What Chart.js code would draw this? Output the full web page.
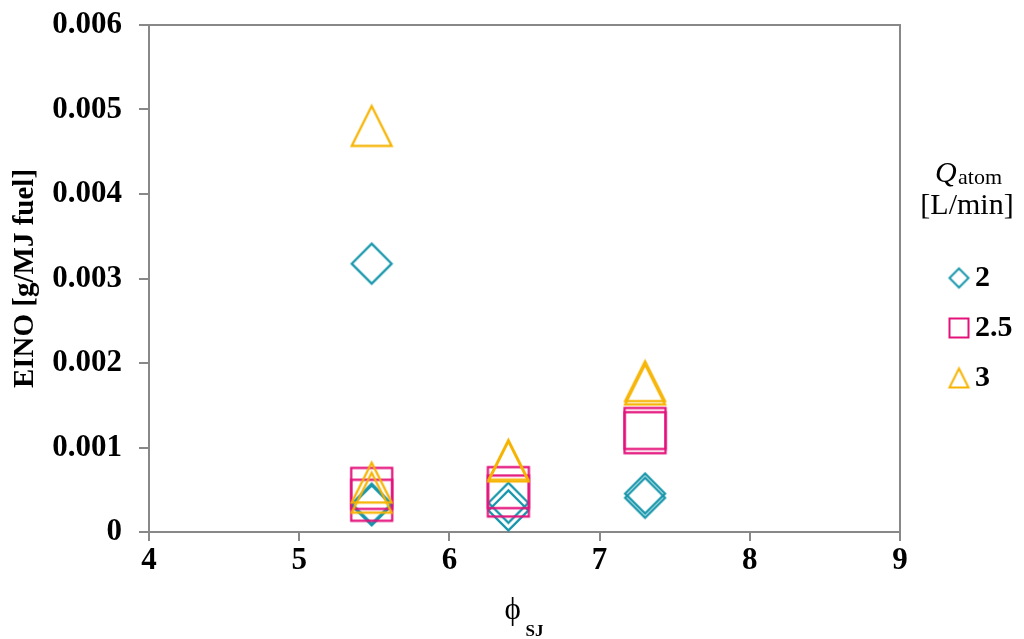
<!DOCTYPE html>
<html>
<head>
<meta charset="utf-8">
<script src="https://cdn.jsdelivr.net/npm/chart.js@4.4.1/dist/chart.umd.min.js"></script>
<style>
  html, body { margin: 0; padding: 0; background: #ffffff; }
</style>
</head>
<body>
<canvas id="chart" width="1024" height="639"></canvas>
<script>
const SERIES_LABELS = ['2', '2.5', '3'];
const SERIES_COLORS = ['#1796ab', '#e3127b', '#f6b300'];
const SERIES_SHAPES = ['diamond', 'square', 'triangle'];

// Q_atom = 2 L/min
const X_Q2  = [5.48, 5.48, 5.48, 6.39, 6.39, 7.30, 7.30];
const Y_Q2  = [0.00318, 0.00034, 0.00032, 0.00035, 0.00026, 0.00046, 0.00041];
// Q_atom = 2.5 L/min
const X_Q25 = [5.48, 5.48, 6.39, 6.39, 7.30, 7.30];
const Y_Q25 = [0.00052, 0.00038, 0.00053, 0.00043, 0.00123, 0.00118];
// Q_atom = 3 L/min
const X_Q3  = [5.48, 5.48, 5.48, 6.39, 6.39, 7.30, 7.30];
const Y_Q3  = [0.00481, 0.00059, 0.00047, 0.00086, 0.00084, 0.00179, 0.00175];

const X_TICKS = [4, 5, 6, 7, 8, 9];
const Y_TICKS = [0, 0.001, 0.002, 0.003, 0.004, 0.005, 0.006];

const SERIF = "'Liberation Serif', 'Times New Roman', serif";
const AXIS_GREY = '#888888';

// outlined marker drawn on a small canvas, used as pointStyle
function makeMarker(shape, size, color, lw) {
  const pad = lw * 2;
  const c = document.createElement('canvas');
  c.width = c.height = size + pad * 2;
  const g = c.getContext('2d');
  const a = pad, b = pad + size, mid = (a + b) / 2;
  g.strokeStyle = color;
  g.lineWidth = lw;
  g.beginPath();
  if (shape === 'diamond') {
    g.moveTo(mid, a); g.lineTo(b, mid); g.lineTo(mid, b); g.lineTo(a, mid);
  } else if (shape === 'square') {
    g.rect(a, a, size, size);
  } else {
    g.moveTo(mid, a); g.lineTo(b, b); g.lineTo(a, b);
  }
  g.closePath();
  g.stroke();
  return c;
}

const CHART_SIZES  = [40, 41, 40];
const LEGEND_SIZES = [19, 19, 19];
const chartMarkers  = SERIES_SHAPES.map((s, i) => makeMarker(s, CHART_SIZES[i], SERIES_COLORS[i], 2.2));
const legendMarkers = SERIES_SHAPES.map((s, i) => makeMarker(s, LEGEND_SIZES[i], SERIES_COLORS[i], 2));

function toPoints(xs, ys) {
  return xs.map((x, i) => ({ x: x, y: ys[i] }));
}

const seriesData = [toPoints(X_Q2, Y_Q2), toPoints(X_Q25, Y_Q25), toPoints(X_Q3, Y_Q3)];

// plot frame, x title with subscript, legend title
const decorPlugin = {
  id: 'decor',
  beforeDatasetsDraw(chart) {
    const { ctx, chartArea: a } = chart;
    ctx.save();
    ctx.strokeStyle = AXIS_GREY;
    ctx.lineWidth = 2;
    ctx.strokeRect(a.left, a.top, a.right - a.left, a.bottom - a.top);
    ctx.restore();
  },
  afterDraw(chart) {
    const { ctx, chartArea: a } = chart;
    const cx = (a.left + a.right) / 2;
    ctx.save();
    ctx.fillStyle = '#000000';
    ctx.textBaseline = 'alphabetic';
    ctx.textAlign = 'left';
    ctx.font = '31px ' + SERIF;
    ctx.fillText('\u03D5', cx - 20, 619);
    ctx.font = 'bold 17px ' + SERIF;
    ctx.fillText('SJ', cx + 1, 636);

    ctx.font = 'italic 30px ' + SERIF;
    ctx.fillText('Q', 935, 182);
    ctx.font = '22px ' + SERIF;
    ctx.fillText('atom', 958, 184);
    ctx.font = '30px ' + SERIF;
    ctx.textAlign = 'center';
    ctx.fillText('[L/min]', 967, 214);
    ctx.restore();
  }
};

const chart = new Chart(document.getElementById('chart').getContext('2d'), {
  type: 'scatter',
  data: {
    datasets: SERIES_LABELS.map((label, i) => ({
      label: label,
      data: seriesData[i],
      pointStyle: chartMarkers[i],
      pointRadius: 20,
      borderColor: SERIES_COLORS[i],
      backgroundColor: 'transparent',
      order: SERIES_LABELS.length - i,
      clip: false,
    }))
  },
  options: {
    responsive: false,
    animation: false,
    layout: { padding: { top: 25, bottom: 8, left: 0, right: 1.5 } },
    plugins: {
      tooltip: { enabled: false },
      legend: {
        position: 'right',
        labels: {
          usePointStyle: true,
          boxWidth: 2,
          padding: 20,
          textAlign: 'left',
          color: '#000000',
          font: { family: SERIF, size: 30, weight: 'bold' },
          generateLabels: c => c.data.datasets.map((ds, i) => ({
            text: ds.label,
            pointStyle: legendMarkers[i],
            fillStyle: 'transparent',
            strokeStyle: ds.borderColor,
            lineWidth: 0,
            hidden: false,
            datasetIndex: i,
          })),
        }
      }
    },
    scales: {
      x: {
        type: 'linear',
        min: 4,
        max: 9,
        afterBuildTicks: s => { s.ticks = X_TICKS.map(v => ({ value: v })); },
        afterFit: s => { s.height = 99; },
        grid: { drawOnChartArea: false, drawTicks: true, tickLength: 9, color: AXIS_GREY, lineWidth: 2 },
        border: { color: AXIS_GREY, width: 2 },
        ticks: {
          color: '#000000',
          padding: 1,
          maxRotation: 0,
          font: { family: SERIF, size: 31, weight: 'bold' },
        },
      },
      y: {
        type: 'linear',
        min: 0,
        max: 0.006,
        afterBuildTicks: s => { s.ticks = Y_TICKS.map(v => ({ value: v })); },
        afterFit: s => { s.width = 149; s.paddingTop = 0; s.paddingBottom = 0; },
        grid: { drawOnChartArea: false, drawTicks: true, tickLength: 10, color: AXIS_GREY, lineWidth: 2 },
        border: { color: AXIS_GREY, width: 2 },
        ticks: {
          color: '#000000',
          padding: 17,
          font: { family: SERIF, size: 31, weight: 'bold' },
          callback: v => v === 0 ? '0' : v.toFixed(3),
        },
        title: {
          display: true,
          text: 'EINO [g/MJ fuel]',
          color: '#000000',
          padding: { top: 8, bottom: 0 },
          font: { family: SERIF, size: 29, weight: 'bold' },
        },
      },
      y2: {
        type: 'linear',
        position: 'right',
        grid: { display: false },
        border: { display: false },
        ticks: { display: false },
        afterFit: s => { s.width = 38; s.paddingTop = 0; s.paddingBottom = 0; },
      },
    }
  },
  plugins: [decorPlugin]
});
</script>
</body>
</html>
